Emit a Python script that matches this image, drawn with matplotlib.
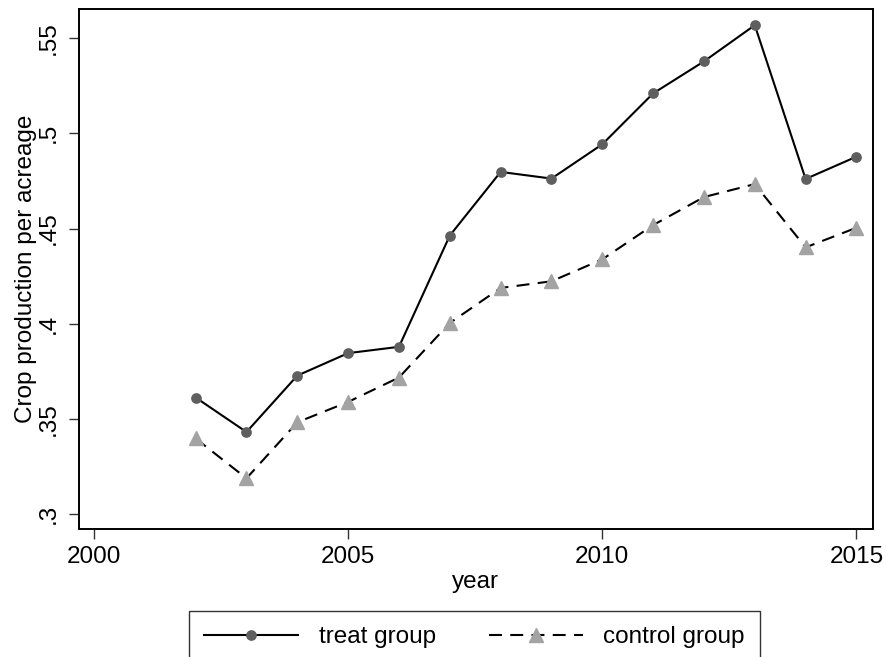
import matplotlib
matplotlib.use("Agg")
import matplotlib.pyplot as plt

plt.rcParams["font.family"] = ["Liberation Sans", "DejaVu Sans"]

years = [2002, 2003, 2004, 2005, 2006, 2007, 2008, 2009, 2010, 2011, 2012, 2013, 2014, 2015]
treat = [0.3613, 0.3432, 0.3728, 0.3846, 0.3879, 0.4463, 0.4797, 0.4762, 0.4942,
         0.5209, 0.5377, 0.5567, 0.4760, 0.4877]
control = [0.3398, 0.3189, 0.3483, 0.3590, 0.3718, 0.4004, 0.4188, 0.4223, 0.4338,
           0.4518, 0.4665, 0.4733, 0.4401, 0.4504]

xticks = [2000, 2005, 2010, 2015]
yticks = [0.30, 0.35, 0.40, 0.45, 0.50, 0.55]
ytick_labels = [".3", ".35", ".4", ".45", ".5", ".55"]

W, H = 887, 657
fig = plt.figure(figsize=(W / 100, H / 100), dpi=100)
ax = fig.add_axes([79 / W, 1 - 529 / H, (872.7 - 79) / W, (529 - 9) / H])

fs = 17.5
ax.plot(years, treat, color="black", lw=1.5, marker="o", markersize=6.7,
        markerfacecolor="#5f5f5f", markeredgecolor="#5f5f5f", label="treat group")
ax.plot(years, control, color="black", lw=1.5, dashes=(6.2, 4.0), marker="^",
        markersize=9.4, markerfacecolor="#a3a3a3", markeredgecolor="#a3a3a3",
        label="control group")

ax.set_xlim(1999.705, 2015.32)
ax.set_ylim(0.2923, 0.5652)
ax.set_xticks(xticks)
ax.set_xticklabels([str(x) for x in xticks], fontsize=fs)
ax.set_yticks(yticks)
ax.set_yticklabels(ytick_labels, fontsize=fs, rotation=90, va="center")
ax.tick_params(axis="both", length=7.5, width=1.0, color="#333333", pad=5)
ax.tick_params(axis="y", pad=6)

for s in ax.spines.values():
    s.set_linewidth(1.4)
    s.set_color("black")

ax.set_xlabel("year", fontsize=fs, labelpad=2)
ax.set_ylabel("Crop production per acreage", fontsize=fs, labelpad=1)

leg = fig.legend(loc="upper left", bbox_to_anchor=(189.3 / W, 1 - 611 / H),
                 ncol=2, fontsize=fs, frameon=True, fancybox=False,
                 handlelength=3.84, handletextpad=0.86, columnspacing=2.2,
                 borderpad=0.62, borderaxespad=0)
leg.get_frame().set_edgecolor("black")
leg.get_frame().set_linewidth(1.0)

fig.savefig("out.png", dpi=100)
